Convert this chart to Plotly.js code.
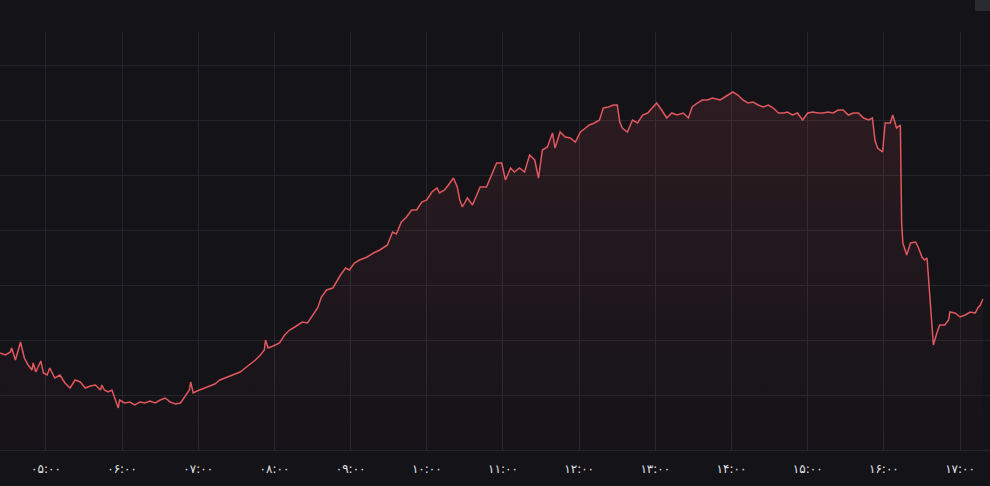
<!DOCTYPE html>
<html>
<head>
<meta charset="utf-8">
<script src="https://cdn.plot.ly/plotly-3.0.1.min.js"></script>
<style>
html,body{margin:0;padding:0;background:#131318;}
#chart{width:990px;height:486px;}
</style>
</head>
<body>
<div id="chart"></div>
<script>
// Times (HH:MM) and levels (no y scale is shown; units are arbitrary)
const times = [
"04:24","04:28","04:32","04:33","04:36","04:38","04:40","04:43","04:46","04:49",
"04:50","04:52","04:56","04:58","05:01","05:03","05:07","05:11","05:15","05:19",
"05:23","05:27","05:31","05:35","05:39","05:43","05:44","05:46","05:49","05:52",
"05:54","05:57","05:58","06:02","06:06","06:10","06:14","06:18","06:22","06:26",
"06:30","06:34","06:38","06:42","06:46","06:50","06:53","06:54","06:56","06:59",
"07:01","07:05","07:09","07:13","07:17","07:21","07:25","07:29","07:33","07:37",
"07:41","07:45","07:49","07:52","07:53","07:55","07:59","08:04","08:08","08:12",
"08:16","08:22","08:26","08:30","08:34","08:37","08:41","08:46","08:52","08:56",
"08:59","09:03","09:07","09:13","09:18","09:23","09:29","09:33","09:36","09:40",
"09:44","09:48","09:52","09:56","10:00","10:04","10:08","10:10","10:14","10:17",
"10:21","10:24","10:26","10:28","10:32","10:36","10:40","10:42","10:47","10:51",
"10:55","10:59","11:02","11:06","11:09","11:13","11:17","11:21","11:25","11:28",
"11:31","11:35","11:39","11:41","11:45","11:49","11:53","11:57","12:01","12:05",
"12:08","12:12","12:16","12:19","12:23","12:27","12:30","12:32","12:34","12:38",
"12:42","12:46","12:50","12:54","12:58","13:01","13:05","13:09","13:13","13:17",
"13:22","13:26","13:29","13:33","13:37","13:41","13:45","13:51","13:56","14:01",
"14:05","14:09","14:13","14:17","14:21","14:25","14:29","14:33","14:37","14:41",
"14:44","14:48","14:52","14:56","15:00","15:04","15:08","15:12","15:16","15:20",
"15:24","15:28","15:32","15:36","15:40","15:44","15:48","15:51","15:53","15:55",
"15:59","16:01","16:05","16:07","16:10","16:13","16:14","16:15","16:18","16:21",
"16:25","16:27","16:30","16:32","16:34","16:36","16:39","16:42","16:44","16:48",
"16:51","16:52","16:56","17:00","17:04","17:08","17:12","17:14","17:16","17:18"
];
const levels = [
 97, 95, 98,102, 90, 98,108, 92, 85, 80,
 87, 78, 89, 77, 75, 82, 72, 75, 67, 62,
 70, 68, 62, 64, 65, 60, 65, 60, 58, 60,
 52, 42, 50, 47, 48, 45, 48, 47, 49, 47,
 50, 52, 48, 46, 47, 55, 60, 68, 57, 59,
 60, 62, 64, 66, 70, 72, 74, 76, 78, 82,
 86, 90, 95,100,110,102,104,107,115,120,
123,128,127,135,142,153,160,162,175,182,
180,187,190,193,197,200,205,218,216,228,
233,240,240,248,250,258,262,257,260,265,
272,263,250,243,252,245,257,263,263,275,
287,287,270,282,278,282,278,295,290,272,
300,303,317,302,318,313,312,308,318,322,
325,327,330,342,343,345,345,328,322,318,
330,327,335,337,343,347,340,332,337,335,
337,332,343,347,350,350,352,350,354,358,
355,350,347,348,345,343,345,342,337,337,
338,335,337,330,337,338,337,337,338,337,
340,340,335,337,337,332,330,332,310,302,
298,327,327,335,322,325,227,207,195,207,
208,203,193,190,192,153,105,118,125,125,
130,138,137,133,135,138,137,142,145,151
];
const tickTimes = ["05:00","06:00","07:00","08:00","09:00","10:00","11:00","12:00","13:00","14:00","15:00","16:00","17:00"];
const tickLabels = ["۰۵:۰۰","۰۶:۰۰","۰۷:۰۰","۰۸:۰۰","۰۹:۰۰","۱۰:۰۰","۱۱:۰۰","۱۲:۰۰","۱۳:۰۰","۱۴:۰۰","۱۵:۰۰","۱۶:۰۰","۱۷:۰۰"];

const day = "2024-01-01 ";
const xs = times.map(t => day + t);
const tickVals = tickTimes.map(t => day + t);

const lineColor = "#e0575e";
const trace = {
  x: xs, y: levels, type: "scatter", mode: "lines",
  line: {color: lineColor, width: 1.5},
  fill: "tozeroy",
  fillgradient: {
    type: "vertical",
    start: 0, stop: 360,
    colorscale: [[0, "rgba(224,87,94,0.01)"], [0.5, "rgba(224,87,94,0.06)"], [1, "rgba(224,87,94,0.13)"]]
  },
  hoverinfo: "skip"
};

const grid = "#25262c";
const layout = {
  width: 990, height: 486,
  margin: {l: 0, r: 0, t: 32, b: 36, pad: 0},
  paper_bgcolor: "#131318",
  plot_bgcolor: "#131318",
  showlegend: false,
  xaxis: {
    type: "date",
    range: [day + "04:23:50", day + "17:23:36"],
    tickvals: tickVals, ticktext: tickLabels,
    showgrid: true, gridcolor: grid, gridwidth: 1,
    zeroline: false, showline: true, linecolor: grid, linewidth: 1,
    ticks: "", ticklen: 0, ticklabelstandoff: 8,
    tickfont: {family: "DejaVu Sans, Noto Sans, sans-serif", size: 12, color: "#e2e2e6"},
    fixedrange: true
  },
  yaxis: {
    range: [0, 418], tick0: 0, dtick: 55,
    showgrid: true, gridcolor: grid, gridwidth: 1,
    zeroline: false, showticklabels: false, ticks: "",
    fixedrange: true
  },
  shapes: [{
    type: "rect", xref: "paper", yref: "paper",
    x0: 975/990, x1: 1.0, y0: (450-11)/418, y1: 450/418,
    fillcolor: "#2a2b31", line: {width: 0}
  }]
};

Plotly.newPlot("chart", [trace], layout, {displayModeBar: false, staticPlot: true});
</script>
</body>
</html>
